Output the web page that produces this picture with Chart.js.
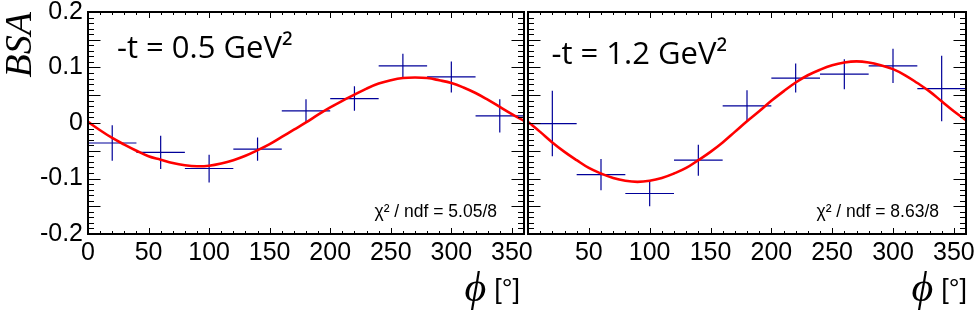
<!DOCTYPE html>
<html><head><meta charset="utf-8">
<script src="https://cdn.jsdelivr.net/npm/chart.js@4.4.0/dist/chart.umd.min.js"></script>
<style>
html,body{margin:0;padding:0;background:#fff;width:980px;height:315px;overflow:hidden}
#cl{position:absolute;left:0;top:0}
#cr{position:absolute;left:526px;top:0}
</style></head><body>
<canvas id="cl" width="550" height="315"></canvas>
<canvas id="cr" width="454" height="315"></canvas>
<script>
// ---- data ----
const phiBins = [20, 60, 100, 140, 180, 220, 260, 300, 340];
const phiHalfWidth = 20;
const bsaLowT  = [-0.036, -0.053, -0.082, -0.047, 0.022, 0.044, 0.103, 0.083, 0.013];
const errLowT  = [0.032, 0.030, 0.025, 0.021, 0.021, 0.022, 0.022, 0.028, 0.030];
const bsaHighT = [-0.001, -0.093, -0.127, -0.067, 0.031, 0.081, 0.088, 0.103, 0.062];
const errHighT = [0.059, 0.028, 0.023, 0.028, 0.028, 0.026, 0.027, 0.031, 0.059];
const fitPhi = [0,10,20,30,40,50,60,70,80,90,100,110,120,130,140,150,160,170,180,190,200,210,220,230,240,250,260,270,280,290,300,310,320,330,340,350,360];
const fitLowT  = [0.002,-0.013,-0.027,-0.039,-0.050,-0.060,-0.066,-0.072,-0.076,-0.078,-0.077,-0.073,-0.067,-0.059,-0.049,-0.038,-0.025,-0.012,0.001,0.015,0.028,0.040,0.051,0.062,0.071,0.077,0.081,0.082,0.081,0.077,0.072,0.064,0.054,0.042,0.029,0.016,0.004];
const fitHighT = [0.002,-0.016,-0.035,-0.052,-0.067,-0.081,-0.091,-0.099,-0.104,-0.106,-0.104,-0.099,-0.091,-0.081,-0.067,-0.052,-0.035,-0.016,0.003,0.021,0.040,0.057,0.073,0.086,0.096,0.104,0.109,0.111,0.109,0.104,0.097,0.086,0.072,0.057,0.039,0.021,0.005];
const panelLabels = ['-t = 0.5 GeV\u00B2', '-t = 1.2 GeV\u00B2'];
const chi2Labels = ['\u03C7\u00B2 / ndf = 5.05/8', '\u03C7\u00B2 / ndf = 8.63/8'];
const yTitle = 'BSA';
const xTitlePhi = '\u03D5';
const xTitleUnit = '[\u00B0]';

// ---- helpers ----
function curvePoints(xs, ys){ return xs.map((x,i)=>({x:x, y:ys[i]})); }
function errorSegments(xs, ys, es){
  const pts = [];
  xs.forEach((x,i)=>{
    pts.push({x:x-phiHalfWidth, y:ys[i]}, {x:x+phiHalfWidth, y:ys[i]}, {x:x, y:null});
    pts.push({x:x, y:ys[i]-es[i]}, {x:x, y:ys[i]+es[i]}, {x:x, y:null});
  });
  return pts;
}

const rootFrame = {
  id: 'rootFrame',
  afterDraw(chart, args, o){
    const {ctx, chartArea:a, scales:{x, y}} = chart;
    ctx.save();
    ctx.strokeStyle = '#000';
    ctx.lineWidth = 1;
    ctx.beginPath();
    for (let k = -20; k <= 20; k++){
      const py = Math.round(y.getPixelForValue(k/100)) + 0.5;
      const len = (k % 5 === 0) ? 12.5 : 6;
      ctx.moveTo(a.left, py); ctx.lineTo(a.left + len, py);
      ctx.moveTo(a.right, py); ctx.lineTo(a.right - len, py);
    }
    for (let d = 0; d <= 360; d += 10){
      const px = Math.round(x.getPixelForValue(d)) + 0.5;
      const len = (d % 50 === 0) ? 6 : 3;
      ctx.moveTo(px, a.bottom); ctx.lineTo(px, a.bottom - len);
      ctx.moveTo(px, a.top); ctx.lineTo(px, a.top + len);
    }
    ctx.stroke();
    ctx.lineWidth = 2;
    ctx.strokeRect(a.left, a.top, a.right - a.left, a.bottom - a.top);
    ctx.fillStyle = '#000';
    ctx.textBaseline = 'alphabetic';
    // panel label
    ctx.font = '31px "Open Sans", sans-serif';
    ctx.textAlign = 'left';
    ctx.fillText(o.label, a.left + o.labelDx, a.top + o.labelDy);
    // chi2
    ctx.font = '17.5px "Liberation Sans", Arial, sans-serif';
    ctx.textAlign = 'right';
    ctx.fillText(o.chi2, a.right - 27, a.bottom - 17);
    // x title
    ctx.font = '27px "Liberation Sans", Arial, sans-serif';
    ctx.textAlign = 'right';
    const ux = a.right + o.unitDx;
    ctx.fillText(xTitleUnit, ux, 298);
    const uw = ctx.measureText(xTitleUnit).width;
    ctx.font = 'italic 42px "Liberation Serif", "DejaVu Serif", serif';
    ctx.fillText(xTitlePhi, ux - uw - 8, 301);
    ctx.restore();
  }
};

const tickFont = {family:'"Liberation Sans", Arial, sans-serif', size:25};

function makeChart(id, fitVals, bsa, err, idx){
  const left = idx === 0;
  return new Chart(document.getElementById(id), {
    type: 'scatter',
    data: { datasets: [
      { data: curvePoints(fitPhi, fitVals), showLine:true, borderColor:'#ff0000', borderWidth:2.6, pointRadius:0, tension:0.4, fill:false },
      { data: errorSegments(phiBins, bsa, err), showLine:true, borderColor:'#000099', borderWidth:1.2, pointRadius:0, tension:0, spanGaps:false, fill:false }
    ]},
    options: {
      responsive:false, animation:false, devicePixelRatio:1,
      layout:{ padding: left ? {top:12, left:0, right:26, bottom:0} : {top:12, left:2, right:14, bottom:0} },
      plugins:{ legend:{display:false}, tooltip:{enabled:false},
        rootFrame:{ label: panelLabels[idx], chi2: chi2Labels[idx],
          labelDx: left ? 29 : 23.5, labelDy: left ? 45.5 : 51.5, unitDx: left ? -4 : 1 } },
      scales:{
        x:{ type:'linear', min:0, max:360, position:'bottom',
          grid:{display:false, drawTicks:false}, border:{display:false},
          ticks:{ stepSize:50, includeBounds:false, autoSkip:false, maxRotation:0, padding:4, color:'#000', font:tickFont,
            callback:(v)=> (!left && v === 0) ? '' : String(v) },
          afterFit(s){ s.height = 81; s.paddingLeft = 0; s.paddingRight = 0; } },
        y:{ type:'linear', min:-0.2, max:0.2, position:'left', display:left,
          grid:{display:false, drawTicks:false}, border:{display:false},
          ticks:{ stepSize:0.1, padding:5, color:'#000', font:tickFont },
          title:{ display:true, text:yTitle, align:'end', color:'#000', padding:{top:0,bottom:0},
            font:{family:'"Liberation Serif", "Times New Roman", serif', style:'italic', size:38, lineHeight:1.1} },
          afterFit(s){ if (left) { s.width = 88; } s.paddingTop = 0; s.paddingBottom = 0; } }
      }
    },
    plugins:[rootFrame]
  });
}

makeChart('cl', fitLowT, bsaLowT, errLowT, 0);
makeChart('cr', fitHighT, bsaHighT, errHighT, 1);
</script>
</body></html>
